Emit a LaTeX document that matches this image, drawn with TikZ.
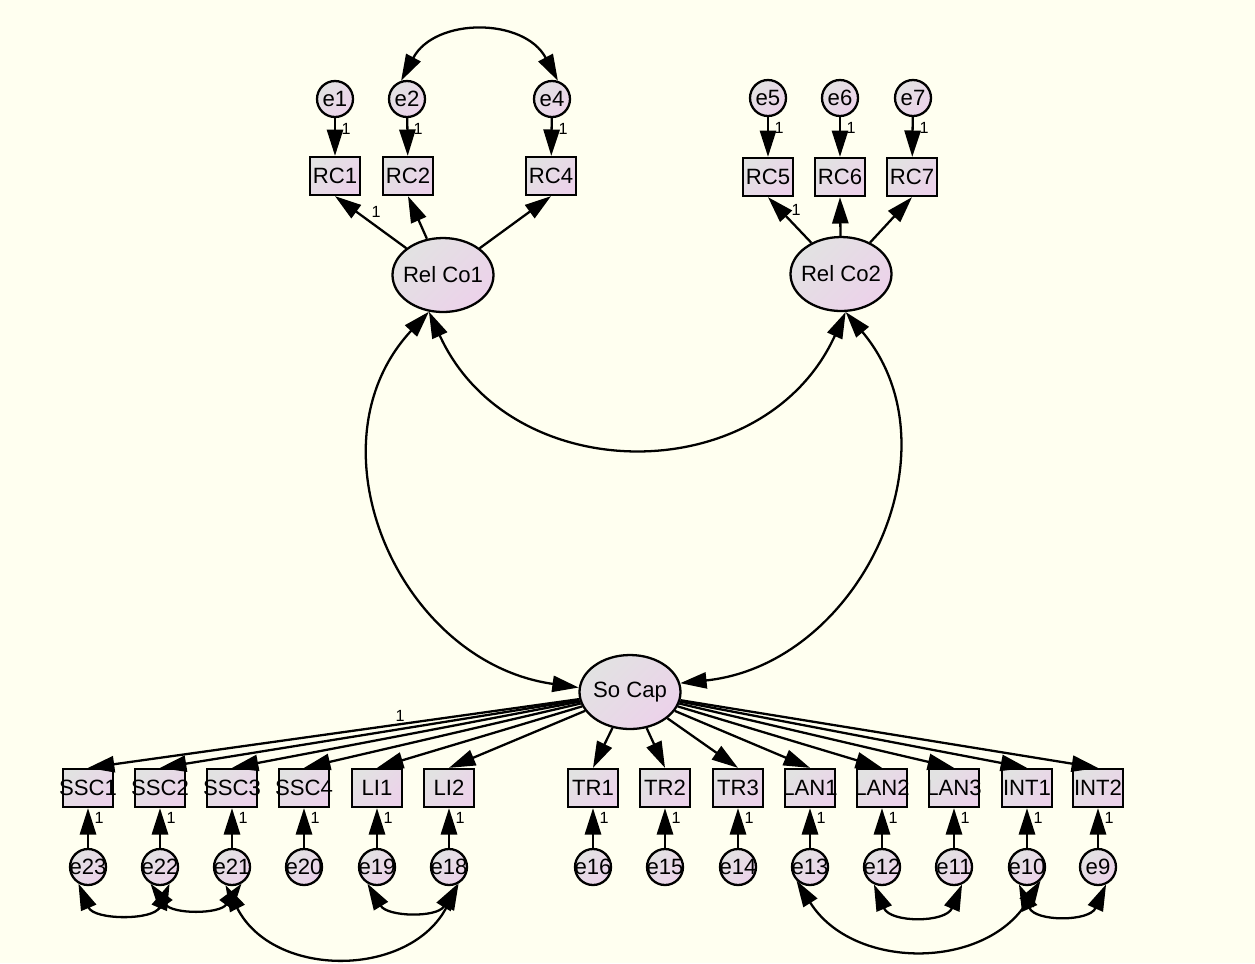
\documentclass[tikz,border=0pt]{standalone}
\usepackage{fontspec}
\setmainfont{Liberation Sans}
\usetikzlibrary{shapes.geometric,arrows.meta}
\definecolor{bg}{RGB}{255,255,240}
\definecolor{cA}{RGB}{226,226,226}
\definecolor{cB}{RGB}{236,210,234}
\tikzset{
  shadefill/.style={top color=cA, bottom color=cB, shading angle=45},
  obs/.style={draw, line width=0.65pt, shadefill, rectangle, minimum width=0.5cm, minimum height=0.38cm, inner sep=0pt, font=\fontsize{6.3}{7}\selectfont},
  err/.style={draw, line width=0.65pt, shadefill, circle, minimum size=0.36cm, inner sep=0pt, font=\fontsize{6.3}{7}\selectfont},
  lat/.style={draw, line width=0.65pt, shadefill, ellipse, minimum width=1.01cm, minimum height=0.74cm, inner sep=0pt, font=\fontsize{6.3}{7}\selectfont},
  tip/.tip={Triangle[length=7.5pt,width=4.6pt]},
  reg/.style={line width=0.65pt, -tip},
  cov/.style={line width=0.65pt, tip-tip},
  lab/.style={font=\fontsize{4.6}{5}\selectfont, inner sep=0pt}
}
\newcommand{\zb}[1]{\makebox[0pt]{#1}}
\begin{document}
\begin{tikzpicture}
\fill[bg] (0,0) rectangle (12.55,-9.63);
\useasboundingbox (0,0) rectangle (12.55,-9.63);

% top left
\node[err] (e1) at (3.35,-0.99) {\zb{e1}};
\node[err] (e2) at (4.07,-0.99) {\zb{e2}};
\node[err] (e4) at (5.52,-0.99) {\zb{e4}};
\node[obs] (rc1) at (3.35,-1.76) {\zb{RC1}};
\node[obs] (rc2) at (4.08,-1.76) {\zb{RC2}};
\node[obs] (rc4) at (5.51,-1.76) {\zb{RC4}};
\node[lat] (relco1) at (4.43,-2.75) {\zb{Rel Co1}};
% top right
\node[err] (e5) at (7.68,-0.98) {\zb{e5}};
\node[err] (e6) at (8.40,-0.98) {\zb{e6}};
\node[err] (e7) at (9.13,-0.98) {\zb{e7}};
\node[obs] (rc5) at (7.68,-1.77) {\zb{RC5}};
\node[obs] (rc6) at (8.40,-1.77) {\zb{RC6}};
\node[obs] (rc7) at (9.12,-1.77) {\zb{RC7}};
\node[lat] (relco2) at (8.41,-2.74) {\zb{Rel Co2}};
% So Cap
\node[lat] (socap) at (6.30,-6.92) {\zb{So Cap}};

% bottom errors
\foreach \x/\e in {0.88/e23, 1.60/e22, 2.32/e21, 3.04/e20, 3.77/e19, 4.49/e18, 5.93/e16, 6.65/e15, 7.38/e14, 8.10/e13, 8.82/e12, 9.54/e11, 10.27/e10, 10.98/e9}{
  \node[err] (\e) at (\x,-8.67) {\zb{\e}};
}
% bottom indicators
\node[obs] (ssc1) at (0.88,-7.88) {\zb{SSC1}};
\node[obs] (ssc2) at (1.60,-7.88) {\zb{SSC2}};
\node[obs] (ssc3) at (2.32,-7.88) {\zb{SSC3}};
\node[obs] (ssc4) at (3.04,-7.88) {\zb{SSC4}};
\node[obs] (li1) at (3.77,-7.88) {\zb{LI1}};
\node[obs] (li2) at (4.49,-7.88) {\zb{LI2}};
\node[obs] (tr1) at (5.93,-7.88) {\zb{TR1}};
\node[obs] (tr2) at (6.65,-7.88) {\zb{TR2}};
\node[obs] (tr3) at (7.38,-7.88) {\zb{TR3}};
\node[obs] (lan1) at (8.10,-7.88) {\zb{LAN1}};
\node[obs] (lan2) at (8.82,-7.88) {\zb{LAN2}};
\node[obs] (lan3) at (9.54,-7.88) {\zb{LAN3}};
\node[obs] (int1) at (10.27,-7.88) {\zb{INT1}};
\node[obs] (int2) at (10.98,-7.88) {\zb{INT2}};

% error -> indicator (top)
\foreach \e/\r in {e1/rc1, e2/rc2, e4/rc4, e5/rc5, e6/rc6, e7/rc7}{
  \draw[reg] (\e) -- (\r);
  \node[lab] at ([xshift=0.11cm,yshift=-0.30cm]\e.center) {1};
}
% latent -> indicator (top)
\draw[reg] (relco1) -- (rc1.south);
\draw[reg] (relco1) -- (rc2.south);
\draw[reg] (relco1) -- (rc4.south);
\draw[reg] (relco2) -- (rc5.south);
\draw[reg] (relco2) -- (rc6.south);
\draw[reg] (relco2) -- (rc7.south);
\node[lab] at (3.76,-2.12) {1};
\node[lab] at (7.96,-2.10) {1};

% error -> indicator (bottom)
\foreach \n/\e in {ssc1/e23, ssc2/e22, ssc3/e21, ssc4/e20, li1/e19, li2/e18, tr1/e16, tr2/e15, tr3/e14, lan1/e13, lan2/e12, lan3/e11, int1/e10, int2/e9}{
  \draw[reg] (\e) -- (\n);
  \node[lab] at ([xshift=0.11cm,yshift=0.49cm]\e.center) {1};
}
% So Cap -> indicators
\foreach \n in {ssc1, ssc2, ssc3, ssc4, li1, li2, tr1, tr2, tr3, lan1, lan2, lan3, int1, int2}{
  \draw[reg] (socap) -- (\n.north);
}
\node[lab] at (4.00,-7.16) {1};

% covariances top
\draw[cov] (e2.108) to[out=62, in=118, distance=0.72cm] (e4.72);
\draw[cov] (relco1.-111) to[out=-65.5, in=-114.5, distance=1.96cm] (relco2.-83);
\draw[cov] (relco1.-111) to[out=227, in=172, distance=1.82cm] (socap.175);
\draw[cov] (relco2.-83) to[out=-50, in=6, distance=1.80cm] (socap.10);

% covariances bottom
\draw[cov] (e23.-120) to[out=-67, in=-113, distance=0.40cm] (e22.-60);
\draw[cov] (e22.-120) to[out=-54, in=-126, distance=0.38cm] (e21.-60);
\draw[cov] (e21.-110) to[out=-63, in=-117, distance=1.06cm] (e18.-60);
\draw[cov] (e19.-120) to[out=-59, in=-121, distance=0.39cm] (e18.-65);
\draw[cov] (e13.-135) to[out=-58, in=-122, distance=1.06cm] (e10.-45);
\draw[cov] (e12.-115) to[out=-67, in=-113, distance=0.42cm] (e11.-65);
\draw[cov] (e10.-115) to[out=-66, in=-114, distance=0.41cm] (e9.-65);
\end{tikzpicture}
\end{document}
